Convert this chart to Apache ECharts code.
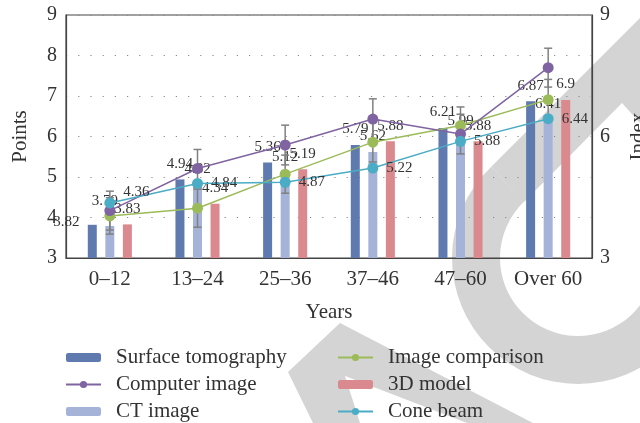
<!DOCTYPE html>
<html>
<head>
<meta charset="utf-8">
<script src="https://cdn.jsdelivr.net/npm/echarts@6/dist/echarts.min.js"></script>
<style>
  html, body { margin: 0; padding: 0; background: #ffffff; }
  #chart { width: 640px; height: 423px; }
</style>
</head>
<body>
<div id="chart"></div>
<script>
// Age groups along the x axis
const categories = ['0–12', '13–24', '25–36', '37–46', '47–60', 'Over 60'];

// Bar series (Points)
const surfaceTomography = [3.82, 4.94, 5.36, 5.79, 6.21, 6.87];
const ctImage = [3.79, 4.82, 5.12, 5.62, 5.99, 6.41];
const model3d = [3.83, 4.34, 5.19, 5.88, 5.88, 6.9];

// Line series
const coneBeam = [4.36, 4.84, 4.87, 5.22, 5.88, 6.44];
const computerImage = [4.17, 5.21, 5.79, 6.43, 6.06, 7.70];
const computerImageErr = [0.48, 0.47, 0.49, 0.50, 0.49, 0.48];
const imageComparison = [4.04, 4.23, 5.07, 5.86, 6.27, 6.91];
const imageComparisonErr = [0.45, 0.47, 0.47, 0.49, 0.46, 0.50];

// Axis ticks
const leftTicks = { min: 3, max: 9, step: 1 };
const rightTicks = { min: 3, max: 9, step: 3 };

const SERIF = '"Liberation Serif", "DejaVu Serif", serif';
const TEXT = '#333333';
const C = {
  surface: '#5f7aae',
  ct: '#a5b3d9',
  model: '#da8a8e',
  computer: '#8064a2',
  comparison: '#9bbb59',
  cone: '#4bacc6',
  err: '#808080',
  mark: '#d4d4d4'
};

const chart = echarts.init(document.getElementById('chart'), null, { renderer: 'canvas' });

function errorData(values, errs) {
  return values.map((v, i) => [i, v + errs[i], v - errs[i]]);
}

function renderError(params, api) {
  const x = api.value(0);
  const top = api.coord([x, api.value(1)]);
  const bot = api.coord([x, api.value(2)]);
  const half = 4;
  const style = { stroke: C.err, lineWidth: 1.5 };
  return {
    type: 'group',
    children: [
      { type: 'line', shape: { x1: top[0], y1: top[1], x2: bot[0], y2: bot[1] }, style },
      { type: 'line', shape: { x1: top[0] - half, y1: top[1], x2: top[0] + half, y2: top[1] }, style },
      { type: 'line', shape: { x1: bot[0] - half, y1: bot[1], x2: bot[0] + half, y2: bot[1] }, style }
    ]
  };
}

// In the crowded first group some value labels are nudged aside
function withFirstLabelOffset(values, offset) {
  return values.map((v, i) => (i === 0 ? { value: v, label: { offset } } : v));
}

const dataLabel = {
  show: true,
  color: TEXT,
  fontFamily: SERIF,
  fontSize: 15
};

const barBase = {
  type: 'bar',
  barWidth: 9,
  barGap: '95%',
  z: 2
};

const legendText = { fontFamily: SERIF, fontSize: 21, color: TEXT, lineHeight: 20, padding: [0, 0, 0, 10] };
const legendBase = {
  orient: 'vertical', top: 347, padding: 0,
  itemWidth: 35, itemHeight: 9, itemGap: 6,
  textStyle: legendText
};

const option = {
  animation: false,
  backgroundColor: '#ffffff',
  graphic: [
    {
      type: 'sector', silent: true, z: -10,
      shape: { cx: 578, cy: 258, r0: 78, r: 126, startAngle: 0, endAngle: 3.95, clockwise: true },
      style: { fill: C.mark }
    },
    {
      type: 'polygon', silent: true, z: -10,
      shape: { points: [[491, 167], [640, 18], [640, 123], [622, 103], [524, 202]] },
      style: { fill: C.mark }
    },
    {
      type: 'polygon', silent: true, z: -10,
      shape: { points: [[340, 323], [533, 423], [467, 423], [345, 376], [360, 423], [313, 423], [288, 372]] },
      style: { fill: C.mark }
    }
  ],
  grid: {
    left: 66, right: 48, top: 15, bottom: 165,
    containLabel: false,
    outerBoundsMode: 'none',
    show: true, borderColor: '#444444', borderWidth: 1.2, backgroundColor: 'transparent'
  },
  legend: [
    Object.assign({}, legendBase, {
      data: ['Surface tomography', 'Computer image', 'CT image'],
      left: 65
    }),
    Object.assign({}, legendBase, {
      data: ['Image comparison', '3D model', 'Cone beam'],
      left: 337
    })
  ],
  xAxis: {
    type: 'category',
    data: categories,
    name: 'Years',
    nameLocation: 'middle',
    nameGap: 44,
    nameTextStyle: { fontFamily: SERIF, fontSize: 21, color: TEXT },
    axisLine: { lineStyle: { color: '#444444', width: 1.2 } },
    axisTick: { show: false },
    axisLabel: { fontFamily: SERIF, fontSize: 21, color: TEXT, margin: 11, interval: 0, hideOverlap: false }
  },
  yAxis: [
    {
      type: 'value',
      min: leftTicks.min, max: leftTicks.max, interval: leftTicks.step,
      name: 'Points',
      nameLocation: 'middle',
      nameGap: 35,
      nameTextStyle: { fontFamily: SERIF, fontSize: 21, color: TEXT },
      axisLine: { show: true, lineStyle: { color: '#444444', width: 1.2 } },
      axisTick: { show: false },
      axisLabel: { fontFamily: SERIF, fontSize: 20, color: TEXT, margin: 9 },
      splitLine: { show: true, lineStyle: { color: '#8a8a8a', width: 1.2, type: [1.2, 11] } }
    },
    {
      type: 'value',
      position: 'right',
      min: rightTicks.min, max: rightTicks.max, interval: rightTicks.step,
      name: 'Index',
      nameLocation: 'middle',
      nameGap: 36,
      nameRotate: 90,
      nameMoveOverlap: false,
      nameTextStyle: { fontFamily: SERIF, fontSize: 21, color: TEXT },
      axisLine: { show: true, lineStyle: { color: '#444444', width: 1.2 } },
      axisTick: { show: false },
      axisLabel: { fontFamily: SERIF, fontSize: 20, color: TEXT, margin: 8 },
      splitLine: { show: false }
    }
  ],
  series: [
    Object.assign({}, barBase, {
      name: 'Surface tomography',
      data: withFirstLabelOffset(surfaceTomography, [-26, 13]),
      itemStyle: { color: C.surface },
      label: Object.assign({}, dataLabel, { position: 'top', distance: 8 })
    }),
    Object.assign({}, barBase, {
      name: 'CT image',
      data: withFirstLabelOffset(ctImage, [-5, -9]),
      itemStyle: { color: C.ct },
      label: Object.assign({}, dataLabel, { position: 'top', distance: 8 })
    }),
    Object.assign({}, barBase, {
      name: '3D model',
      data: model3d,
      itemStyle: { color: C.model },
      label: Object.assign({}, dataLabel, { position: 'top', distance: 8 })
    }),
    {
      type: 'custom',
      name: 'Computer image error',
      renderItem: renderError,
      data: errorData(computerImage, computerImageErr),
      encode: { x: 0, y: [1, 2] },
      z: 3,
      silent: true
    },
    {
      type: 'custom',
      name: 'Image comparison error',
      renderItem: renderError,
      data: errorData(imageComparison, imageComparisonErr),
      encode: { x: 0, y: [1, 2] },
      z: 3,
      silent: true
    },
    {
      type: 'line',
      name: 'Image comparison',
      data: imageComparison,
      symbol: 'circle', symbolSize: 11,
      lineStyle: { color: C.comparison, width: 1.5 },
      itemStyle: { color: C.comparison },
      z: 4
    },
    {
      type: 'line',
      name: 'Computer image',
      data: computerImage,
      symbol: 'circle', symbolSize: 11,
      lineStyle: { color: C.computer, width: 1.5 },
      itemStyle: { color: C.computer },
      z: 4
    },
    {
      type: 'line',
      name: 'Cone beam',
      data: withFirstLabelOffset(coneBeam, [0, -11]),
      symbol: 'circle', symbolSize: 11,
      lineStyle: { color: C.cone, width: 1.5 },
      itemStyle: { color: C.cone },
      label: Object.assign({}, dataLabel, { position: 'right', distance: 8 }),
      z: 4
    }
  ]
};

chart.setOption(option);
</script>
</body>
</html>
